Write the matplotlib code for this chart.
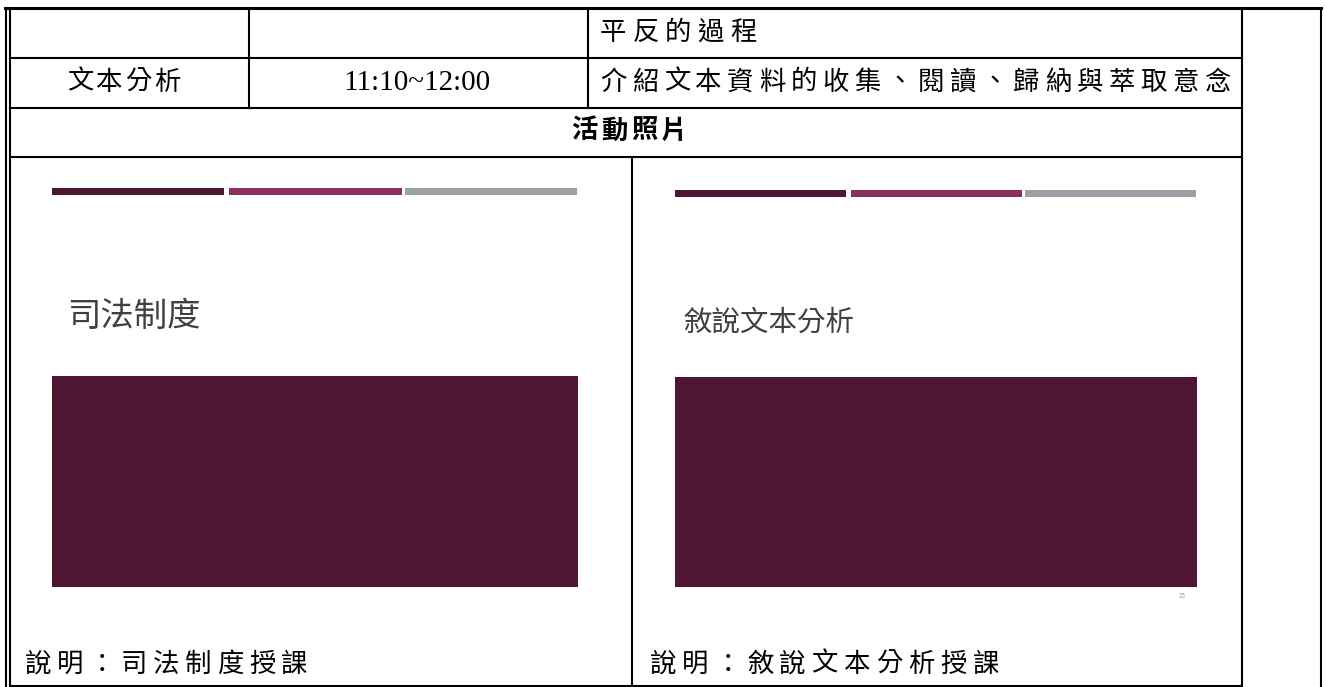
import matplotlib
matplotlib.use("Agg")
import matplotlib.pyplot as plt
from matplotlib.patches import Rectangle

plt.rcParams['font.family'] = ['Noto Sans CJK TC', 'DejaVu Sans']

# table content
row1_desc = "平反的過程"
topic = "文本分析"
time_span = "11:10~12:00"
row2_desc = "介紹文本資料的收集、閱讀、歸納與萃取意念"
photo_header = "活動照片"
slide_titles = ["司法制度", "敘說文本分析"]
captions = ["說明：司法制度授課", "說明：敘說文本分析授課"]
slide_bar_colors = ["#4e1633", "#8b2f5e", "#9aa0a6"]
slide_block_color = "#4e1633"
page_number = "15"

W, H = 1327, 687
fig = plt.figure(figsize=(W / 100, H / 100), dpi=100)
ax = fig.add_axes([0, 0, 1, 1])
ax.set_xlim(0, W)
ax.set_ylim(H, 0)
ax.axis("off")

lw = 1.5
kw = dict(color="black", linewidth=lw, capstyle="projecting")

# grid of the form
ax.hlines(7.5, 5, 1321, color="black", linewidth=2.2, capstyle="projecting")
ax.vlines([5.5, 9.5], 7.5, 687, **kw)
ax.vlines(1321, 7.5, 687, **kw)
ax.vlines(1241.5, 7.5, 687, **kw)
ax.hlines([57.5, 107.5, 156.5], 9.5, 1241.5, **kw)
ax.hlines(686, 9.5, 1241.5, **kw)
ax.vlines([248.5, 587.5], 7.5, 107.5, **kw)
ax.vlines(632, 156.5, 686, **kw)


def spaced(x, y, s, pitch, **tkw):
    for i, ch in enumerate(s):
        ax.text(x + i * pitch, y, ch, ha="left", va="center", **tkw)


txt = dict(fontsize=19, color="black")
spaced(600, 33, row1_desc, 32.5, **txt)
spaced(600, 82, row2_desc, 31.8, **txt)
spaced(67, 82, topic, 29, **txt)
ax.text(417, 83, time_span, ha="center", va="center", fontsize=21,
        family="Liberation Serif")
spaced(571, 131, photo_header, 30, fontsize=19, fontweight="bold")

# the two slide screenshots
slides = [
    dict(x0=52, x1=578, bar_y=191, title_x=67, title_y=316, title_fs=24,
         rect_y0=376, rect_y1=587),
    dict(x0=675, x1=1197, bar_y=193, title_x=683, title_y=323, title_fs=20.5,
         rect_y0=377, rect_y1=587),
]
for k, s in enumerate(slides):
    seg = (s["x1"] - s["x0"]) / 3
    for j, c in enumerate(slide_bar_colors):
        ax.add_patch(Rectangle((s["x0"] + j * seg + (2 if j else 0), s["bar_y"] - 3.5),
                               seg - 3, 7, color=c, lw=0))
    ax.text(s["title_x"], s["title_y"], slide_titles[k], ha="left", va="center",
            fontsize=s["title_fs"], color="#404040", fontweight="light")
    ax.add_patch(Rectangle((s["x0"], s["rect_y0"]), s["x1"] - s["x0"],
                           s["rect_y1"] - s["rect_y0"], color=slide_block_color, lw=0))

ax.text(1182, 596, page_number, ha="center", va="center", fontsize=4.5, color="#999999")

spaced(25, 664, captions[0], 32, **txt)
spaced(650, 664, captions[1], 32.3, **txt)

fig.savefig("out.png", dpi=100)
